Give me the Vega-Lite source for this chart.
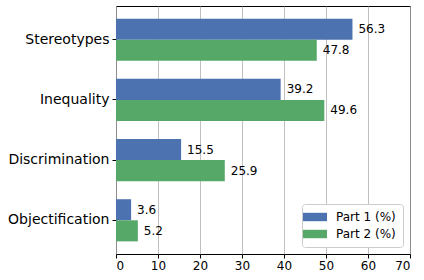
{
  "$schema": "https://vega.github.io/schema/vega-lite/v6.json",
  "width": 294,
  "height": 248,
  "autosize": {"type": "none"},
  "padding": {"left": 116, "top": 6, "right": 14, "bottom": 26},
  "config": {
    "font": "DejaVu Sans",
    "view": {"stroke": "#000", "strokeWidth": 1},
    "axis": {"domain": false, "labelColor": "#000", "tickColor": "#000", "titleColor": "#000"}
  },
  "data": {
    "values": [
      {"category": "Stereotypes", "series": "Part 1 (%)", "value": 56.3},
      {"category": "Stereotypes", "series": "Part 2 (%)", "value": 47.8},
      {"category": "Inequality", "series": "Part 1 (%)", "value": 39.2},
      {"category": "Inequality", "series": "Part 2 (%)", "value": 49.6},
      {"category": "Discrimination", "series": "Part 1 (%)", "value": 15.5},
      {"category": "Discrimination", "series": "Part 2 (%)", "value": 25.9},
      {"category": "Objectification", "series": "Part 1 (%)", "value": 3.6},
      {"category": "Objectification", "series": "Part 2 (%)", "value": 5.2}
    ]
  },
  "encoding": {
    "y": {
      "field": "category", "type": "nominal", "sort": null,
      "scale": {"paddingInner": 0.3, "paddingOuter": 0.21},
      "axis": {"title": null, "labelFontSize": 14, "tickSize": 4, "labelPadding": 3, "grid": false}
    },
    "yOffset": {
      "field": "series", "type": "nominal", "sort": ["Part 1 (%)", "Part 2 (%)"],
      "scale": {"paddingInner": 0, "paddingOuter": 0}
    },
    "x": {
      "field": "value", "type": "quantitative",
      "scale": {"domain": [0, 70], "nice": false, "zero": true},
      "axis": {"title": null, "values": [0, 10, 20, 30, 40, 50, 60, 70], "labelFontSize": 12, "tickSize": 4, "labelPadding": 2, "grid": true, "gridColor": "#b0b0b0", "gridWidth": 0.8, "gridOpacity": 1}
    }
  },
  "layer": [
    {
      "mark": {"type": "bar"},
      "encoding": {
        "color": {
          "field": "series", "type": "nominal",
          "scale": {"domain": ["Part 1 (%)", "Part 2 (%)"], "range": ["#4c72b0", "#55a868"]},
          "legend": {
            "title": null,
            "orient": "bottom-right",
            "offset": 7,
            "labelFontSize": 12,
            "labelColor": "#000",
            "symbolType": "M-2,-0.7H2V0.7H-2Z",
            "symbolSize": 144,
            "symbolStrokeWidth": 0,
            "symbolOpacity": 1,
            "rowPadding": 5,
            "labelOffset": 15,
            "fillColor": "#ffffff",
            "strokeColor": "#cccccc",
            "cornerRadius": 3,
            "padding": 7
          }
        }
      }
    },
    {
      "mark": {"type": "text", "align": "left", "baseline": "middle", "dx": 6, "fontSize": 12, "color": "#000"},
      "encoding": {
        "text": {"field": "value", "type": "quantitative", "format": ".1f"}
      }
    }
  ]
}
